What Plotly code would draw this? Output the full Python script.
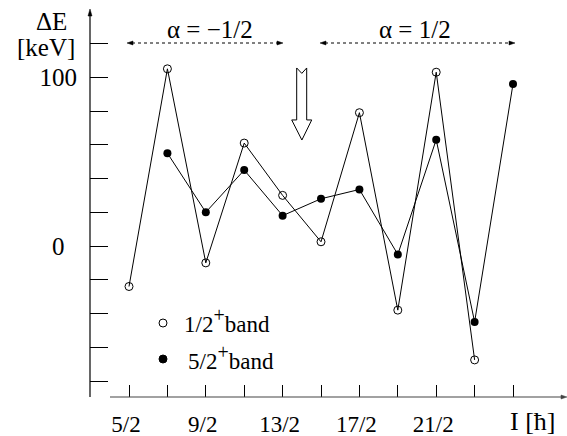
import plotly.graph_objects as go

# ---- data ----
spin_12 = [5, 7, 9, 11, 13, 15, 17, 19, 21, 23]          # 2*I, 1/2+ band
dE_12 = [-24, 105, -10, 61, 30, 2.5, 79, -38, 103, -67.5]  # keV
spin_52 = [7, 9, 11, 13, 15, 17, 19, 21, 23, 25]          # 2*I, 5/2+ band
dE_52 = [55, 20, 45, 18, 28, 33.5, -5, 63, -45, 96]        # keV

x_tickvals2 = [5, 7, 9, 11, 13, 15, 17, 19, 21, 23, 25]
x_ticktext = ["5/2", "", "9/2", "", "13/2", "", "17/2", "", "21/2", "", ""]
y_tickvals = [-80, -60, -40, -20, 0, 20, 40, 60, 80, 100, 120]
y_ticktext = ["", "", "", "", "0\u2002", "", "", "", "", "100", ""]

FONT = "Liberation Serif, Times New Roman, serif"
W, H = 567, 436
L, T, R, B = 90, 12, 565, 397


def px(x):
    return (x - L) / (R - L)


def py(y):
    return (B - y) / (B - T)


def ppath(pts):
    return "M " + " L ".join(f"{px(a):.5f},{py(b):.5f}" for a, b in pts) + " Z"


fig = go.Figure()
fig.add_trace(go.Scatter(
    x=[s / 2 for s in spin_12], y=dE_12, mode="lines+markers",
    line=dict(color="black", width=1),
    marker=dict(symbol="circle-open", size=8, color="black", line=dict(width=1, color="black")),
    showlegend=False))
fig.add_trace(go.Scatter(
    x=[s / 2 for s in spin_52], y=dE_52, mode="lines+markers",
    line=dict(color="black", width=1),
    marker=dict(symbol="circle", size=8, color="black"),
    showlegend=False))

fig.update_layout(
    width=W, height=H,
    margin=dict(l=L, r=W - R, t=T, b=H - B, pad=0, autoexpand=False),
    plot_bgcolor="white", paper_bgcolor="white",
    font=dict(family=FONT, color="black"),
    showlegend=False,
    xaxis=dict(range=[1.484, 13.854], tickvals=[v / 2 for v in x_tickvals2], ticktext=x_ticktext,
               ticks="inside", ticklen=12, tickwidth=1, tickcolor="black",
               showline=False, showgrid=False, zeroline=False, automargin=False,
               tickfont=dict(size=23, family=FONT), ticklabelstandoff=11, ticklabelshift=-3),
    yaxis=dict(range=[-89.48, 138.67], tickvals=y_tickvals, ticktext=y_ticktext,
               ticks="inside", ticklen=18, tickwidth=1, tickcolor="black",
               showline=False, showgrid=False, zeroline=False, automargin=False,
               tickfont=dict(size=25, family=FONT), ticklabelstandoff=12),
)

# axis lines with arrowheads
fig.add_shape(type="line", xref="paper", yref="paper", x0=px(110), x1=px(563), y0=py(397), y1=py(397),
              line=dict(color="#444", width=1.2))
fig.add_shape(type="path", xref="paper", yref="paper", path=ppath([(567, 397), (561, 395), (561, 399)]),
              line=dict(color="#444", width=0.5), fillcolor="#444")
fig.add_shape(type="line", xref="paper", yref="paper", x0=px(90), x1=px(90), y0=py(397), y1=py(15),
              line=dict(color="black", width=1.2))
fig.add_shape(type="path", xref="paper", yref="paper", path=ppath([(90, 9), (88, 16), (92, 16)]),
              line=dict(color="black", width=0.5), fillcolor="black")

# dashed double arrows
Y_ARR = 43
for x0, x1 in [(127, 283), (320, 515)]:
    fig.add_shape(type="line", xref="paper", yref="paper", x0=px(x0 + 5), x1=px(x1 - 5),
                  y0=py(Y_ARR), y1=py(Y_ARR), line=dict(color="black", width=1, dash="3px,3px"))
    fig.add_shape(type="path", xref="paper", yref="paper",
                  path=ppath([(x0, Y_ARR), (x0 + 6, Y_ARR - 2), (x0 + 6, Y_ARR + 2)]),
                  line=dict(color="black", width=0.5), fillcolor="black")
    fig.add_shape(type="path", xref="paper", yref="paper",
                  path=ppath([(x1, Y_ARR), (x1 - 6, Y_ARR - 2), (x1 - 6, Y_ARR + 2)]),
                  line=dict(color="black", width=0.5), fillcolor="black")

# hollow down arrow
path = ("M 6.867,105.5 L 7.0,102.3 L 7.127,105.5 L 7.127,74.7 L 7.258,74.7 "
        "L 7.002,62.8 L 6.737,74.7 L 6.867,74.7 Z")
fig.add_shape(type="path", path=path, xref="x", yref="y",
              line=dict(color="black", width=1), fillcolor="white")


# texts
def txt(s, x, y, size, xanchor="center"):
    fig.add_annotation(x=px(x), y=py(y), xref="paper", yref="paper", text=s, showarrow=False,
                       xanchor=xanchor, yanchor="middle", font=dict(size=size, family=FONT, color="black"))


txt("\u0394E", 51, 21, 25)
txt("[keV]", 46, 47, 25)
txt("\u03b1 = \u22121/2", 210, 29, 25)
txt("\u03b1 = 1/2", 415, 29, 25)
txt("I [\u0127]", 532, 422, 26)
txt("1/2<sup><span style='font-size:20px'>+</span></sup>band", 182, 320, 23, "left")
txt("5/2<sup><span style='font-size:20px'>+</span></sup>band", 186, 357, 23, "left")

# legend symbols
for yy, fill in [(323, "white"), (359, "black")]:
    fig.add_shape(type="circle", xref="paper", yref="paper", xsizemode="pixel", ysizemode="pixel",
                  xanchor=px(163), yanchor=py(yy), x0=-4, x1=4, y0=-4, y1=4,
                  line=dict(color="black", width=1), fillcolor=fill)

fig.write_html("out.html")
